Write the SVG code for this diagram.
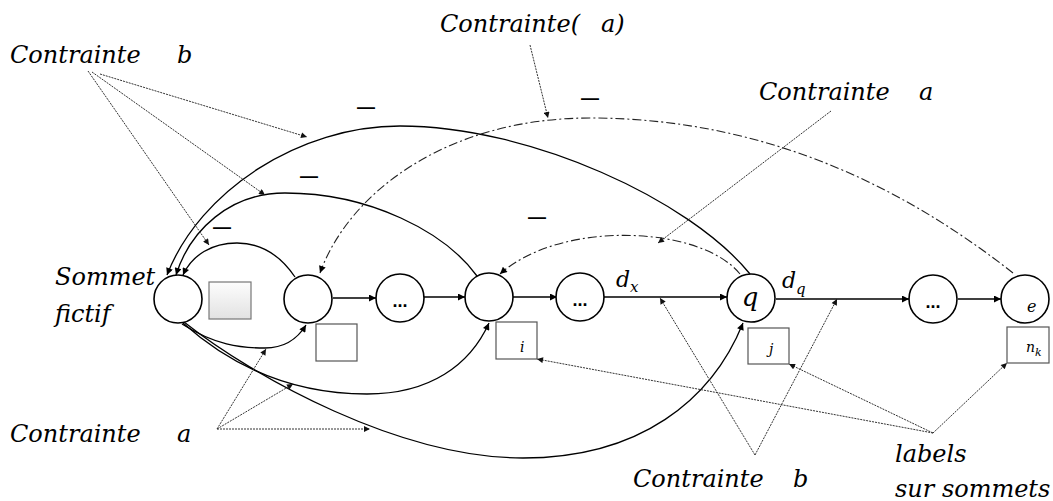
<svg xmlns="http://www.w3.org/2000/svg" width="1053" height="501" viewBox="0 0 1053 501">
<style>
.t{font-family:"DejaVu Serif","Liberation Serif",serif;font-style:italic;fill:#000}
.big{font-size:24px}
.sm{font-size:14px}
.node{fill:#fff;stroke:#000;stroke-width:1.6}
.lab{fill:#fff;stroke:#555;stroke-width:1.2}
.edge{fill:none;stroke:#000;stroke-width:1.3}
.dd{fill:none;stroke:#222;stroke-width:1.1;stroke-dasharray:9 3 2 3}
.ptr{fill:none;stroke:#333;stroke-width:1;stroke-dasharray:2 1}
.dots{font-family:"Liberation Sans",Arial,sans-serif;font-weight:bold;font-size:18px;text-anchor:middle}
.minus{font-family:"Liberation Sans",Arial,sans-serif;font-weight:bold;font-size:18px;text-anchor:middle}
</style>
<defs>
<marker id="ah" viewBox="0 0 10 10" refX="10" refY="5" markerWidth="9" markerHeight="7" markerUnits="userSpaceOnUse" orient="auto">
<path d="M0,0 L10,5 L0,10 z" fill="#000"/>
</marker>
<marker id="ap" viewBox="0 0 10 10" refX="10" refY="5" markerWidth="8" markerHeight="6" markerUnits="userSpaceOnUse" orient="auto">
<path d="M0,0 L10,5 L0,10 z" fill="#111"/>
</marker>
<linearGradient id="g" x1="0" y1="0" x2="0" y2="1">
<stop offset="0" stop-color="#fdfdfd"/>
<stop offset="1" stop-color="#e2e2e2"/>
</linearGradient>
</defs>
<rect width="1053" height="501" fill="#fff"/>

<g id="connectors">
<path class="edge" d="M333,298 L376,298" marker-end="url(#ah)"/>
<path class="edge" d="M424,297 L465,297" marker-end="url(#ah)"/>
<path class="edge" d="M513,297 L557,297" marker-end="url(#ah)"/>
<path class="edge" d="M604,297 L727,297" marker-end="url(#ah)"/>
<path class="edge" d="M776,299 L909,299" marker-end="url(#ah)"/>
<path class="edge" d="M958,299 L1001,299" marker-end="url(#ah)"/>
<path class="edge" d="M182,324 C215,345 240,348 265,348 C285,348 298,338 306,325" marker-end="url(#ah)"/>
<path class="edge" d="M183,323 C230,365 290,394 367,394 C430,394 470,365 489,323" marker-end="url(#ah)"/>
<path class="edge" d="M184,322 C255,378 400,458 523,458 C640,458 712,400 743,323" marker-end="url(#ah)"/>
<path class="edge" d="M295,277 C280,255 262,243 237,243 C212,243 192,255 183,275" marker-end="url(#ah)"/>
<path class="edge" d="M477,276 C445,232 370,193 285,193 C230,193 190,230 176,275" marker-end="url(#ah)"/>
<path class="edge" d="M750,274 C690,200 530,126 400,126 C300,126 200,190 167,275" marker-end="url(#ah)"/>
<path class="dd" d="M740,274 C700,225 560,220 500,274" marker-end="url(#ah)"/>
<path class="dd" d="M1013,273 C920,200 780,118 590,118 C450,118 350,190 320,273" marker-end="url(#ah)"/>
<path class="ptr" d="M100,74 L307,137" marker-end="url(#ap)"/>
<path class="ptr" d="M92,72 L265,195" marker-end="url(#ap)"/>
<path class="ptr" d="M88,71 L209,245" marker-end="url(#ap)"/>
<path class="ptr" d="M530,45 L548,118" marker-end="url(#ap)"/>
<path class="ptr" d="M831,111 L658,243" marker-end="url(#ap)"/>
<path class="ptr" d="M217,429 L266,349" marker-end="url(#ap)"/>
<path class="ptr" d="M217,429 L293,384" marker-end="url(#ap)"/>
<path class="ptr" d="M217,429 L370,429" marker-end="url(#ap)"/>
<path class="ptr" d="M755,455 L660,298" marker-end="url(#ap)"/>
<path class="ptr" d="M755,455 L837,299" marker-end="url(#ap)"/>
<path class="ptr" d="M933,433 L537,359" marker-end="url(#ap)"/>
<path class="ptr" d="M933,433 L789,364" marker-end="url(#ap)"/>
<path class="ptr" d="M933,433 L1007,363" marker-end="url(#ap)"/>
</g>

<g id="node-fictif">
<circle class="node" cx="178" cy="299" r="24"/>
<rect x="209" y="282" width="42" height="37" fill="url(#g)" stroke="#777" stroke-width="1.2"/>
<text class="t big" x="55" y="285">Sommet</text>
<text class="t big" x="55" y="322">fictif</text>
</g>
<g id="node-1">
<circle class="node" cx="308" cy="299" r="24"/>
<rect class="lab" x="316" y="324" width="41" height="37"/>
</g>
<g id="node-2">
<circle class="node" cx="400" cy="298" r="24"/>
<text class="dots" x="400" y="307">...</text>
</g>
<g id="node-i">
<circle class="node" cx="489" cy="297" r="24"/>
<rect class="lab" x="496" y="322" width="41" height="37"/>
<text class="t sm" x="520" y="352">i</text>
</g>
<g id="node-4">
<circle class="node" cx="580" cy="297" r="24"/>
<text class="dots" x="580" y="306">...</text>
</g>
<g id="node-q">
<circle class="node" cx="751" cy="298" r="24"/>
<text class="t" x="750" y="306" font-size="26" text-anchor="middle">q</text>
<rect class="lab" x="748" y="328" width="41" height="36"/>
<text class="t sm" x="769" y="354">j</text>
</g>
<g id="node-5">
<circle class="node" cx="933" cy="299" r="24"/>
<text class="dots" x="933" y="308">...</text>
</g>
<g id="node-e">
<circle class="node" cx="1025" cy="299" r="24"/>
<text class="t" x="1027" y="312" font-size="16">e</text>
<rect class="lab" x="1007" y="327" width="42" height="36"/>
<text class="t sm" x="1026" y="352">n<tspan font-size="11" dy="4">k</tspan></text>
</g>

<g id="edge-labels">
<text class="t" x="616" y="287" font-size="22">d<tspan font-size="15" dy="5">x</tspan></text>
<text class="t" x="782" y="288" font-size="22">d<tspan font-size="15" dy="6">q</tspan></text>
<text class="minus" x="366" y="113">—</text>
<text class="minus" x="590" y="104">—</text>
<text class="minus" x="309" y="182">—</text>
<text class="minus" x="537" y="223">—</text>
<text class="minus" x="222" y="233">—</text>
</g>

<g id="annotations">
<text class="t big" x="10" y="63">Contrainte</text>
<text class="t big" x="177" y="63">b</text>
<text class="t big" x="440" y="32">Contrainte(</text>
<text class="t big" x="601" y="32">a)</text>
<text class="t big" x="759" y="100">Contrainte</text>
<text class="t big" x="919" y="100">a</text>
<text class="t big" x="10" y="442">Contrainte</text>
<text class="t big" x="177" y="442">a</text>
<text class="t big" x="633" y="487">Contrainte</text>
<text class="t big" x="793" y="487">b</text>
<text class="t big" x="895" y="462">labels</text>
<text class="t big" x="895" y="497">sur sommets</text>
</g>
</svg>
